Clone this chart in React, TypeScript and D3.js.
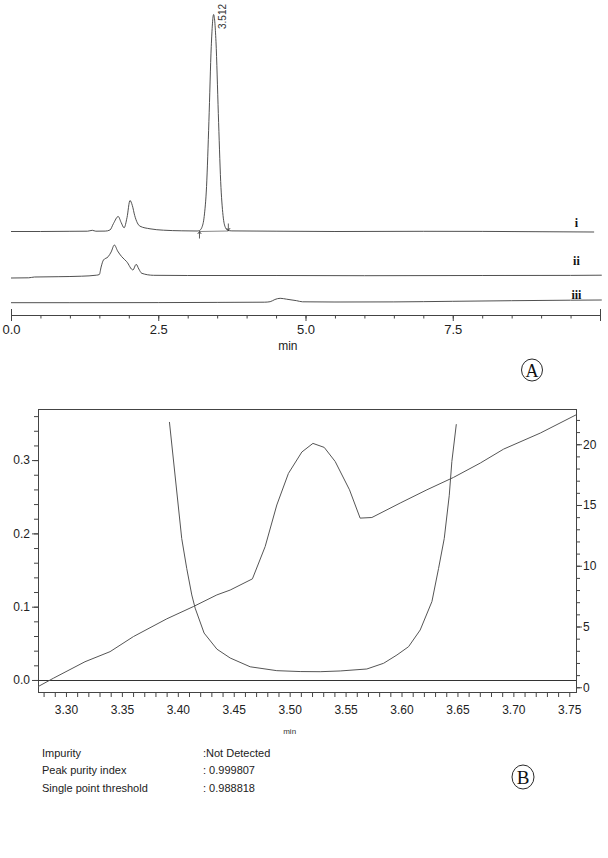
import React, { useEffect, useRef } from 'react';
import * as d3 from 'd3';

// ---- panel A : chromatograms (time in min, signal above trace offset) ----
const traceI: [number, number][] = [
  [0, 0], [0.5, 0], [1.0, 0.2], [1.3, 0.3], [1.38, 1.2], [1.44, 0.3], [1.6, 0.4],
  [1.68, 1.5], [1.74, 8], [1.82, 15], [1.87, 9], [1.92, 3.7], [1.97, 14], [2.02, 31],
  [2.06, 26], [2.1, 16], [2.19, 5.3], [2.36, 2.7], [2.59, 1.3], [2.9, 0.7], [3.16, 0.5],
  [3.2, 1], [3.24, 4], [3.28, 15], [3.32, 45], [3.36, 110], [3.4, 185], [3.44, 217],
  [3.48, 190], [3.52, 118], [3.56, 50], [3.6, 16], [3.64, 4], [3.68, 1.2], [3.75, 0.6],
  [4.5, 0.3], [5.5, 0], [7.0, 0.2], [8.0, 0.1], [9.9, -0.5],
];
const traceII: [number, number][] = [
  [0, -1], [0.3, -0.8], [0.4, 0], [0.8, 0.3], [1.2, 0.8], [1.45, 1.8], [1.5, 2.5],
  [1.53, 10], [1.57, 17], [1.65, 20.3], [1.7, 25], [1.755, 32], [1.81, 26], [1.88, 20.3],
  [1.965, 15.3], [2.07, 7], [2.125, 12.7], [2.17, 8], [2.22, 3.7], [2.42, 1.7], [3.0, 1.5],
  [4.5, 1.5], [6.0, 1.3], [8.0, 1.5], [9.5, 1.6], [10.03, 1.8],
];
const traceIII: [number, number][] = [
  [0, 0.3], [1.0, 0.3], [2.5, 0.4], [3.5, 0.6], [4.3, 0.8], [4.4, 1.3], [4.48, 3.5],
  [4.57, 4.7], [4.68, 3.8], [4.85, 2.3], [4.95, 1.2], [5.5, 1], [6.5, 1.1], [7.5, 1.7],
  [8.5, 2.3], [9.5, 2.8], [10.03, 3],
];
const traces = [traceI, traceII, traceIII];
const traceOffsets = [83.5, 38, 12];
const traceNames = ['i', 'ii', 'iii'];
const peakLabel = '3.512';
const peakApex = 3.44;
const integStart = 3.2;
const integEnd = 3.69;
const timeTicksA = [0, 2.5, 5.0, 7.5];

// ---- panel B : peak purity ----
const thresholdCurve: [number, number][] = [
  [3.3925, 0.352], [3.4035, 0.193], [3.408, 0.152], [3.4125, 0.116], [3.4155, 0.098],
  [3.4235, 0.064], [3.435, 0.042], [3.4468, 0.03], [3.4647, 0.018], [3.4885, 0.0127],
  [3.5094, 0.0115], [3.5273, 0.0113], [3.5452, 0.0123], [3.569, 0.015], [3.584, 0.0228],
  [3.5959, 0.0341], [3.6063, 0.0454], [3.6167, 0.0682], [3.6272, 0.107], [3.6331, 0.152],
  [3.6382, 0.193], [3.6427, 0.252], [3.645, 0.298], [3.649, 0.349],
];
const purityCurve: [number, number][] = [
  [3.275, 0.05], [3.2887, 0.74], [3.317, 2.1], [3.3394, 2.93], [3.3603, 4.17],
  [3.3901, 5.63], [3.4139, 6.64], [3.4349, 7.6], [3.4468, 8.0], [3.4667, 8.92],
  [3.4781, 11.58], [3.4885, 15.0], [3.4989, 17.6], [3.5109, 19.36], [3.5208, 20.07],
  [3.5309, 19.74], [3.5407, 18.58], [3.5535, 16.25], [3.563, 13.92], [3.5735, 13.97],
  [3.5988, 15.16], [3.6227, 16.25], [3.6465, 17.27], [3.6704, 18.45], [3.6913, 19.6],
  [3.7241, 20.92], [3.7563, 22.43],
];
const leftTicks = [0, 0.1, 0.2, 0.3];
const rightTicks = [0, 5, 10, 15, 20];
const timeTicksB = [3.3, 3.35, 3.4, 3.45, 3.5, 3.55, 3.6, 3.65, 3.7, 3.75];
const infoLabels = ['Impurity', 'Peak purity index', 'Single point threshold'];
const infoValues = [':Not Detected', ': 0.999807', ': 0.988818'];

const SANS = '"Liberation Sans", Arial, sans-serif';
const SERIF = '"Liberation Serif", "Times New Roman", serif';

function drawPanelA(svg: any) {
  const x = d3.scaleLinear().domain([0, 10]).range([11, 600]);
  const y = d3.scaleLinear().domain([0, 300]).range([315, 15]);
  const g = svg.append('g');

  traces.forEach((tr, i) => {
    const line = d3.line<[number, number]>()
      .x(d => x(d[0]))
      .y(d => y(d[1] + traceOffsets[i]))
      .curve(d3.curveMonotoneX);
    g.append('path').attr('d', line(tr)).attr('fill', 'none')
      .attr('stroke', '#3c3c3c').attr('stroke-width', 0.9);
  });

  // integration marks
  const b0 = y(traceOffsets[0]);
  const xs = x(integStart), xe = x(integEnd);
  g.append('line').attr('x1', xs).attr('x2', xe).attr('y1', b0).attr('y2', b0 - 0.5)
    .attr('stroke', '#555').attr('stroke-width', 0.7);
  g.append('path').attr('d', `M${xs},${b0 + 7}V${b0}M${xs - 1.8},${b0 + 2.5}L${xs},${b0}L${xs + 1.8},${b0 + 2.5}`)
    .attr('fill', 'none').attr('stroke', '#333').attr('stroke-width', 0.8);
  g.append('path').attr('d', `M${xe},${b0 - 8}V${b0 - 1}M${xe - 1.8},${b0 - 3.5}L${xe},${b0 - 1}L${xe + 1.8},${b0 - 3.5}`)
    .attr('fill', 'none').attr('stroke', '#333').attr('stroke-width', 0.8);

  // retention time label
  g.append('text')
    .attr('transform', `translate(${x(peakApex) + 12},${y(300) + 14}) rotate(-90)`)
    .attr('font-family', SANS).attr('font-size', 10).attr('fill', '#333')
    .text(peakLabel);

  // trace names
  const lifts = [5, 12, 4];
  traceNames.forEach((n, i) => {
    g.append('text').attr('x', x(9.6)).attr('y', y(traceOffsets[i] + lifts[i]))
      .attr('text-anchor', 'middle').attr('font-family', SERIF).attr('font-weight', 'bold')
      .attr('font-size', 12).attr('fill', '#111').text(n);
  });

  // axis
  const axY = y(0);
  g.append('g').attr('transform', `translate(0,${axY})`)
    .call(d3.axisBottom(x).tickValues(d3.range(0.5, 10, 0.5)).tickSize(3.5).tickSizeOuter(0).tickFormat(() => ''))
    .call((a: any) => a.selectAll('line,path').attr('stroke', '#444'));
  const major = g.append('g').attr('transform', `translate(0,${axY})`)
    .call(d3.axisBottom(x).tickValues(timeTicksA).tickSize(6).tickSizeOuter(0).tickPadding(4)
      .tickFormat((d: any) => d3.format('.1f')(d)));
  major.select('.domain').remove();
  major.selectAll('line').attr('stroke', '#444');
  major.selectAll('text').attr('font-family', SANS).attr('font-size', 13).attr('fill', '#222');
  [0, 10].forEach(v => {
    g.append('line').attr('x1', x(v) + 0.5).attr('x2', x(v) + 0.5)
      .attr('y1', axY - 6).attr('y2', axY + 6).attr('stroke', '#444');
  });
  g.append('text').attr('x', x(4.7)).attr('y', axY + 35).attr('text-anchor', 'middle')
    .attr('font-family', SANS).attr('font-size', 12).attr('fill', '#222').text('min');

  // panel letter
  g.append('ellipse').attr('cx', 532).attr('cy', 370).attr('rx', 10.5).attr('ry', 11)
    .attr('fill', 'none').attr('stroke', '#111').attr('stroke-width', 0.9);
  g.append('text').attr('x', 532).attr('y', 376.5).attr('text-anchor', 'middle')
    .attr('font-family', SERIF).attr('font-size', 18).attr('fill', '#111').text('A');
}

function drawPanelB(svg: any) {
  const x = d3.scaleLinear().domain([3.275, 3.756]).range([38, 576]);
  const yL = d3.scaleLinear().domain([-0.0164, 0.3697]).range([692, 409]);
  const yR = d3.scaleLinear().domain([-0.39, 22.9]).range([692, 409]);
  const g = svg.append('g');
  const [x0, x1] = x.range();
  const [yb, yt] = yL.range();

  // ticks
  const bottom = g.append('g').attr('transform', `translate(0,${yb})`)
    .call(d3.axisBottom(x).tickValues(d3.range(3.28, 3.755, 0.01)).tickSize(5).tickSizeOuter(0).tickFormat(() => ''));
  bottom.select('.domain').remove();
  bottom.selectAll('line').attr('stroke', '#444');
  const bl = g.append('g').attr('transform', `translate(0,${yb})`)
    .call(d3.axisBottom(x).tickValues(timeTicksB).tickSize(0).tickPadding(13)
      .tickFormat((d: any) => d3.format('.2f')(d)));
  bl.select('.domain').remove();
  bl.selectAll('text').attr('font-family', SANS).attr('font-size', 12).attr('fill', '#222');

  const left = g.append('g').attr('transform', `translate(${x0},0)`)
    .call(d3.axisLeft(yL).tickValues(d3.range(0, 0.37, 0.02)).tickSize(4).tickSizeOuter(0).tickFormat(() => ''));
  left.select('.domain').remove();
  left.selectAll('line').attr('stroke', '#444');
  const ll = g.append('g').attr('transform', `translate(${x0},0)`)
    .call(d3.axisLeft(yL).tickValues(leftTicks).tickSize(6).tickPadding(2)
      .tickFormat((d: any) => d3.format('.1f')(d)));
  ll.select('.domain').remove();
  ll.selectAll('line').attr('stroke', '#444');
  ll.selectAll('text').attr('font-family', SANS).attr('font-size', 12).attr('fill', '#222');

  const right = g.append('g').attr('transform', `translate(${x1},0)`)
    .call(d3.axisRight(yR).tickValues(d3.range(0, 23, 1)).tickSize(4).tickSizeOuter(0).tickFormat(() => ''));
  right.select('.domain').remove();
  right.selectAll('line').attr('stroke', '#444');
  const rl = g.append('g').attr('transform', `translate(${x1},0)`)
    .call(d3.axisRight(yR).tickValues(rightTicks).tickSize(6).tickPadding(1)
      .tickFormat((d: any) => String(d)));
  rl.select('.domain').remove();
  rl.selectAll('line').attr('stroke', '#444');
  rl.selectAll('text').attr('font-family', SANS).attr('font-size', 12).attr('fill', '#222');

  // frame and zero line
  g.append('rect').attr('x', x0 + 0.5).attr('y', yt + 0.5).attr('width', x1 - x0).attr('height', yb - yt)
    .attr('fill', 'none').attr('stroke', '#444').attr('stroke-width', 1);
  g.append('line').attr('x1', x0).attr('x2', x1).attr('y1', Math.round(yL(0)) + 0.5).attr('y2', Math.round(yL(0)) + 0.5)
    .attr('stroke', '#333').attr('stroke-width', 1);

  const clip = svg.append('clipPath').attr('id', 'clipB');
  clip.append('rect').attr('x', x0).attr('y', yt).attr('width', x1 - x0).attr('height', yb - yt);

  const lineL = d3.line<[number, number]>().x(d => x(d[0])).y(d => yL(d[1]));
  const lineR = d3.line<[number, number]>().x(d => x(d[0])).y(d => yR(d[1]));
  g.append('path').attr('d', lineL(thresholdCurve)).attr('clip-path', 'url(#clipB)')
    .attr('fill', 'none').attr('stroke', '#555').attr('stroke-width', 1);
  g.append('path').attr('d', lineR(purityCurve)).attr('clip-path', 'url(#clipB)')
    .attr('fill', 'none').attr('stroke', '#555').attr('stroke-width', 1);

  g.append('text').attr('x', x(3.5)).attr('y', 734).attr('text-anchor', 'middle')
    .attr('font-family', SANS).attr('font-size', 8).attr('fill', '#333').text('min');

  // purity summary
  infoLabels.forEach((t, i) => {
    g.append('text').attr('x', 42).attr('y', 757 + i * 17.3)
      .attr('font-family', SANS).attr('font-size', 11).attr('fill', '#222').text(t);
    g.append('text').attr('x', 203).attr('y', 757 + i * 17.3)
      .attr('font-family', SANS).attr('font-size', 11).attr('fill', '#222').text(infoValues[i]);
  });

  g.append('ellipse').attr('cx', 523).attr('cy', 777).attr('rx', 11).attr('ry', 12)
    .attr('fill', 'none').attr('stroke', '#111').attr('stroke-width', 0.9);
  g.append('text').attr('x', 523).attr('y', 783.5).attr('text-anchor', 'middle')
    .attr('font-family', SERIF).attr('font-size', 19).attr('fill', '#111').text('B');
}

export default function App() {
  const ref = useRef<SVGSVGElement>(null);

  useEffect(() => {
    const svg = d3.select(ref.current);
    svg.selectAll('*').remove();
    drawPanelA(svg);
    drawPanelB(svg);
  }, []);

  return (
    <svg ref={ref} width={608} height={858}
      style={{ position: 'absolute', left: 0, top: 0, background: '#fff' }} />
  );
}
